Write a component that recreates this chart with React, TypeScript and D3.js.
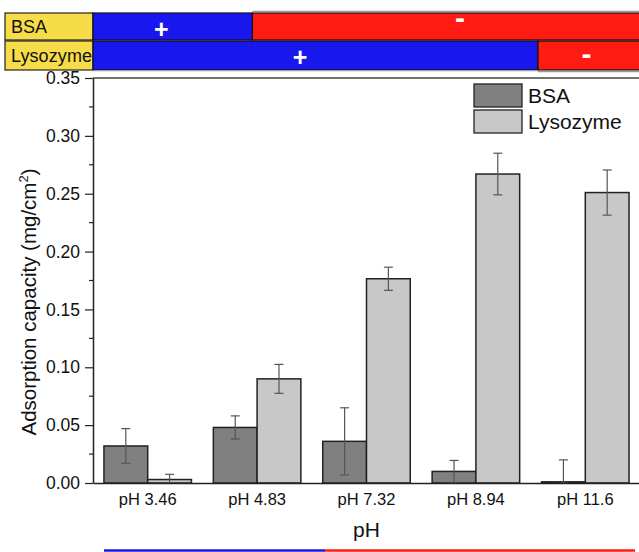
import * as d3 from "d3";
import { useEffect, useRef } from "react";

const categories = ["pH 3.46", "pH 4.83", "pH 7.32", "pH 8.94", "pH 11.6"];
const bsaValues = [0.032, 0.048, 0.036, 0.010, 0.001];
const bsaErrors = [0.015, 0.010, 0.029, 0.0095, 0.019];
const lysoValues = [0.003, 0.090, 0.1765, 0.267, 0.251];
const lysoErrors = [0.0045, 0.0125, 0.010, 0.018, 0.0195];
const yTicks = [0, 0.05, 0.1, 0.15, 0.2, 0.25, 0.3, 0.35];
const seriesNames = ["BSA", "Lysozyme"];

export default function App() {
  const svgRef = useRef(null);
  const width = 639;
  const height = 552;

  useEffect(() => {
    const svg = d3.select(svgRef.current);
    svg.selectAll("*").remove();
    const font = "'Liberation Sans', Arial, sans-serif";

    const left = 93, right = 640, top = 78, bottom = 483;
    const x = d3.scaleBand().domain(categories).range([left, right]).paddingInner(0.2).paddingOuter(0.1);
    const inner = d3.scaleBand().domain(seriesNames).range([0, x.bandwidth()]);
    const y = d3.scaleLinear().domain([0, 0.35]).range([bottom, top]);
    const colors = ["#808080", "#c8c8c8"];

    // charge header
    const headerX = d3.scaleLinear().domain([0, 1]).range([left, width]);
    const rows = [
      { name: "BSA", y0: 13, y1: 40, split: 0.292, plusX: 0.125, minusX: 0.672, signY: 30, minusY: 22 },
      { name: "Lysozyme", y0: 41, y1: 70, split: 0.815, plusX: 0.379, minusX: 0.904, signY: 58, minusY: 58 },
    ];
    rows.forEach(r => {
      svg.append("rect").attr("x", 5).attr("y", r.y0).attr("width", left - 5).attr("height", r.y1 - r.y0)
        .attr("fill", "#f7dc4a").attr("stroke", "#222").attr("stroke-width", 1.2);
      svg.append("text").attr("x", 11).attr("y", (r.y0 + r.y1) / 2 + 6.5).attr("font-family", font)
        .attr("font-size", 18).attr("fill", "#111").attr("textLength", r.name === "Lysozyme" ? 81 : null)
        .text(r.name);
      const sx = headerX(r.split);
      svg.append("rect").attr("x", left).attr("y", r.y0).attr("width", sx - left).attr("height", r.y1 - r.y0)
        .attr("fill", "#1818ee").attr("stroke", "#111").attr("stroke-width", 1.2);
      svg.append("rect").attr("x", sx).attr("y", r.y0).attr("width", width - sx + 2).attr("height", r.y1 - r.y0)
        .attr("fill", "#ff1a12").attr("stroke", "#111").attr("stroke-width", 1.2);
      svg.append("text").attr("x", headerX(r.plusX)).attr("y", r.signY + 8).attr("text-anchor", "middle")
        .attr("font-family", font).attr("font-size", 25).attr("font-weight", "bold").attr("fill", "white").text("+");
      svg.append("text").attr("x", headerX(r.minusX)).attr("y", r.minusY + 6).attr("text-anchor", "middle")
        .attr("font-family", font).attr("font-size", 30).attr("font-weight", "bold").attr("fill", "white").text("-");
    });
    svg.append("line").attr("x1", headerX(0.292)).attr("x2", width).attr("y1", 11.5).attr("y2", 11.5)
      .attr("stroke", "#999").attr("stroke-width", 1.5);
    svg.append("line").attr("x1", headerX(0.815)).attr("x2", width).attr("y1", 71.5).attr("y2", 71.5)
      .attr("stroke", "#999").attr("stroke-width", 1.5);
    svg.append("line").attr("x1", left).attr("x2", headerX(0.815)).attr("y1", 71).attr("y2", 71)
      .attr("stroke", "#ccc").attr("stroke-width", 1);

    // top frame
    svg.append("line").attr("x1", left).attr("x2", width).attr("y1", top).attr("y2", top)
      .attr("stroke", "#444").attr("stroke-width", 1.5);

    // bars
    const series = [
      { vals: bsaValues, errs: bsaErrors },
      { vals: lysoValues, errs: lysoErrors },
    ];
    series.forEach((s, si) => {
      const g = svg.append("g");
      g.selectAll("rect").data(categories).join("rect")
        .attr("x", d => x(d) + inner(seriesNames[si]))
        .attr("y", (d, i) => y(s.vals[i]))
        .attr("width", inner.bandwidth())
        .attr("height", (d, i) => bottom - y(s.vals[i]))
        .attr("fill", colors[si]).attr("stroke", "#222").attr("stroke-width", 1.5);
    });
    series.forEach((s, si) => {
      categories.forEach((c, i) => {
        const cx = x(c) + inner(seriesNames[si]) + inner.bandwidth() / 2;
        const hi = y(s.vals[i] + s.errs[i]);
        const lo = y(Math.max(0, s.vals[i] - s.errs[i]));
        const eg = svg.append("g").attr("stroke", "#555").attr("stroke-width", 1.2);
        eg.append("line").attr("x1", cx).attr("x2", cx).attr("y1", hi).attr("y2", lo);
        eg.append("line").attr("x1", cx - 4.5).attr("x2", cx + 4.5).attr("y1", hi).attr("y2", hi);
        eg.append("line").attr("x1", cx - 4.5).attr("x2", cx + 4.5).attr("y1", lo).attr("y2", lo);
      });
    });

    // y axis
    const yAxis = svg.append("g").attr("transform", `translate(${left},0)`)
      .call(d3.axisLeft(y).tickValues(yTicks).tickFormat(d3.format(".2f")).tickSize(8).tickSizeOuter(0));
    yAxis.select(".domain").attr("stroke", "#222").attr("stroke-width", 1.5);
    yAxis.selectAll(".tick line").attr("stroke", "#222").attr("stroke-width", 1.2);
    yAxis.selectAll("text").attr("font-family", font).attr("font-size", 17.5).attr("fill", "#111").attr("x", -13);
    const minor = yTicks.slice(0, -1).map(t => t + 0.025);
    svg.append("g").selectAll("line").data(minor).join("line")
      .attr("x1", left - 4).attr("x2", left).attr("y1", d => y(d)).attr("y2", d => y(d))
      .attr("stroke", "#222").attr("stroke-width", 1.2);

    // x axis
    const xAxis = svg.append("g").attr("transform", `translate(0,${bottom})`)
      .call(d3.axisBottom(x).tickSize(0).tickSizeOuter(0));
    xAxis.select(".domain").attr("stroke", "#222").attr("stroke-width", 1.5);
    xAxis.selectAll("text").attr("font-family", font).attr("font-size", 16.5).attr("fill", "#111")
      .attr("y", 0).attr("dy", 0).attr("transform", "translate(0,22)");

    // axis titles
    svg.append("text").attr("transform", `translate(36,302) rotate(-90)`)
      .attr("text-anchor", "middle").attr("font-family", font).attr("font-size", 20.5).attr("fill", "#111")
      .call(t => {
        t.append("tspan").text("Adsorption capacity (mg/cm");
        t.append("tspan").attr("font-size", 13).attr("dy", -8).text("2");
        t.append("tspan").attr("dy", 8).text(")");
      });
    svg.append("text").attr("x", x("pH 7.32") + x.bandwidth() / 2).attr("y", 537).attr("text-anchor", "middle")
      .attr("font-family", font).attr("font-size", 21).attr("fill", "#111").text("pH");

    // bottom charge line
    svg.append("line").attr("x1", 104).attr("x2", 325).attr("y1", 550.5).attr("y2", 550.5)
      .attr("stroke", "#1818ee").attr("stroke-width", 2.5);
    svg.append("line").attr("x1", 325).attr("x2", 635).attr("y1", 550.5).attr("y2", 550.5)
      .attr("stroke", "#ff1a12").attr("stroke-width", 2.5);

    // legend
    seriesNames.forEach((n, i) => {
      svg.append("rect").attr("x", 474).attr("y", 84 + i * 26).attr("width", 48).attr("height", 23)
        .attr("fill", colors[i]).attr("stroke", "#222").attr("stroke-width", 1.3);
      svg.append("text").attr("x", 528).attr("y", 103 + i * 26).attr("font-family", font)
        .attr("font-size", 21).attr("fill", "#111").text(n);
    });
  }, []);

  return (
    <svg ref={svgRef} width={width} height={height} viewBox={`0 0 ${width} ${height}`}
      style={{ position: "absolute", left: 0, top: 0, background: "white" }} xmlns="http://www.w3.org/2000/svg" />
  );
}
